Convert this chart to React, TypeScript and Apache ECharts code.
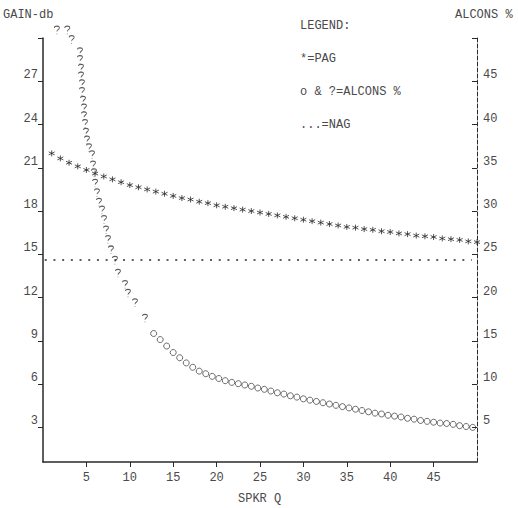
import React, { useEffect, useRef } from "react";
import * as echarts from "echarts";

// ---------- data ----------
const gainTicks = [3, 6, 9, 12, 15, 18, 21, 24, 27];
const gainTickMarks = [3, 6, 9, 12, 15, 18, 21, 24, 27, 30];
const alconsTicks = [5, 10, 15, 20, 25, 30, 35, 40, 45];
const alconsTickMarks = [5, 10, 15, 20, 25, 30, 35, 40, 45, 50];

// PAG (dB) vs speaker Q
const pagQ = [1, 2, 3, 4, 5, 6, 7, 8, 9, 10, 11, 12, 13, 14, 15, 16, 17, 18, 19, 20, 21, 22, 23, 24, 25, 26, 27, 28, 29, 30, 31, 32, 33, 34, 35, 36, 37, 38, 39, 40, 41, 42, 43, 44, 45, 46, 47, 48, 49, 50];
const pagDb = [22.0, 21.65, 21.35, 21.1, 20.85, 20.6, 20.4, 20.2, 20.0, 19.8, 19.65, 19.5, 19.35, 19.2, 19.05, 18.9, 18.8, 18.65, 18.55, 18.4, 18.3, 18.2, 18.1, 18.0, 17.9, 17.8, 17.7, 17.6, 17.5, 17.4, 17.3, 17.2, 17.1, 17.0, 16.9, 16.85, 16.75, 16.7, 16.6, 16.55, 16.45, 16.4, 16.3, 16.25, 16.2, 16.1, 16.05, 16.0, 15.9, 15.85];

// NAG (dB), constant across Q
const nagQ = [0.2, 49.4];
const nagDb = 14.6;

// ALCONS % plotted with "?" (steep part, incl. off-scale marks at the top)
const alconsQQ = [1.6, 2.8, 3.3, 4.26, 4.26, 4.38, 4.38, 4.49, 4.49, 4.61, 4.72, 4.72, 4.84, 4.95, 5.07, 5.3, 5.65, 5.76, 5.88, 6.0, 6.22, 6.45, 6.8, 7.03, 7.26, 7.49, 7.83, 8.29, 8.64, 9.45, 9.79, 10.6, 11.75];
const alconsQPct = [50.9, 50.9, 49.8, 48.4, 47.5, 46.5, 45.6, 44.7, 43.8, 42.8, 41.9, 41.0, 40.1, 39.1, 38.2, 37.3, 36.5, 35.3, 34.4, 33.2, 32.1, 31.0, 30.1, 29.0, 27.8, 26.7, 25.5, 24.3, 22.8, 21.5, 20.5, 19.4, 17.6];

// ALCONS % plotted with "o"
const alconsOQ = [12.75, 13.5, 14.25, 15, 15.75, 16.5, 17.25, 18, 18.75, 19.5, 20.25, 21, 21.75, 22.5, 23.25, 24, 24.75, 25.5, 26.25, 27, 27.75, 28.5, 29.25, 30, 30.75, 31.5, 32.25, 33, 33.75, 34.5, 35.25, 36, 36.75, 37.5, 38.25, 39, 39.75, 40.5, 41.25, 42, 42.75, 43.5, 44.25, 45, 45.75, 46.5, 47.25, 48, 48.75, 49.5];
const alconsOPct = [15.85, 15.15, 14.4, 13.65, 13.05, 12.45, 11.95, 11.5, 11.2, 10.9, 10.65, 10.4, 10.2, 10.05, 9.9, 9.75, 9.55, 9.4, 9.2, 9.0, 8.85, 8.65, 8.5, 8.3, 8.15, 8.0, 7.85, 7.7, 7.55, 7.4, 7.25, 7.1, 6.95, 6.8, 6.65, 6.55, 6.4, 6.3, 6.2, 6.05, 5.95, 5.8, 5.7, 5.6, 5.5, 5.45, 5.35, 5.2, 5.1, 5.0];

// ---------- styling ----------
const FONT = "Liberation Mono, DejaVu Sans Mono, monospace";
const INK = "#2a2a2a";
const TXT = "#4a4a4a";

const STAR_PATH = "path://M0,-5L0,5M-4.33,-2.5L4.33,2.5M-4.33,2.5L4.33,-2.5";
const QMARK_PATH = "path://M1,3C1,0 7,0 7,3C7,5 4,5.5 4,8M4,10.5L4,11.5";

export default function App() {
  const ref = useRef<HTMLDivElement>(null);

  useEffect(() => {
    if (!ref.current) return;
    const chart = echarts.init(ref.current, null, { renderer: "svg" });

    const txt = (text: string, x: number, y: number) => ({
      type: "text",
      x,
      y,
      style: { text, font: `12px ${FONT}`, fill: TXT, verticalAlign: "middle" },
    });

    chart.setOption({
      animation: false,
      backgroundColor: "#ffffff",
      grid: { left: 43, right: 41, top: 38, bottom: 46 },
      xAxis: {
        type: "value",
        min: 0,
        max: 50,
        interval: 5,
        axisLine: { show: true, lineStyle: { color: INK, width: 1.5 } },
        axisTick: { show: true, inside: false, length: 5, lineStyle: { color: INK } },
        splitLine: { show: false },
        axisLabel: {
          showMinLabel: false,
          showMaxLabel: false,
          margin: 10,
          color: TXT,
          fontFamily: FONT,
          fontSize: 12,
        },
      },
      yAxis: [
        {
          type: "value",
          min: 0.6,
          max: 30,
          position: "left",
          axisLine: { show: true, onZero: false, lineStyle: { color: INK, width: 1.5 } },
          axisTick: { show: true, length: 5, customValues: gainTickMarks, lineStyle: { color: INK } },
          splitLine: { show: false },
          axisLabel: {
            customValues: gainTicks,
            margin: 5,
            verticalAlign: "bottom",
            color: TXT,
            fontFamily: FONT,
            fontSize: 12,
          },
        },
        {
          type: "value",
          min: 1,
          max: 50,
          position: "right",
          axisLine: { show: true, onZero: false, lineStyle: { color: INK, width: 1, type: [4, 2] } },
          axisTick: { show: true, length: 5, inside: true, customValues: alconsTickMarks, lineStyle: { color: INK } },
          splitLine: { show: false },
          axisLabel: {
            customValues: alconsTicks,
            margin: 6,
            verticalAlign: "bottom",
            color: TXT,
            fontFamily: FONT,
            fontSize: 12,
          },
        },
      ],
      series: [
        {
          name: "NAG",
          type: "line",
          yAxisIndex: 0,
          symbol: "none",
          data: nagQ.map((q) => [q, nagDb]),
          lineStyle: { color: INK, width: 1.5, type: [2, 6.7] },
        },
        {
          name: "PAG",
          type: "scatter",
          yAxisIndex: 0,
          symbol: STAR_PATH,
          symbolSize: 6,
          data: pagQ.map((q, i) => [q, pagDb[i]]),
          itemStyle: { color: "rgba(0,0,0,0)", borderColor: INK, borderWidth: 1 },
        },
        {
          name: "ALCONS ?",
          type: "scatter",
          yAxisIndex: 1,
          clip: false,
          symbol: QMARK_PATH,
          symbolSize: [5, 8],
          data: alconsQQ.map((q, i) => [q, alconsQPct[i]]),
          itemStyle: { color: "rgba(0,0,0,0)", borderColor: "#333", borderWidth: 1 },
        },
        {
          name: "ALCONS o",
          type: "scatter",
          yAxisIndex: 1,
          symbol: "circle",
          symbolSize: 6,
          data: alconsOQ.map((q, i) => [q, alconsOPct[i]]),
          itemStyle: { color: "rgba(0,0,0,0)", borderColor: "#333", borderWidth: 0.9 },
        },
      ],
      graphic: [
        txt("GAIN-db", 3, 15),
        txt("ALCONS %", 455, 15),
        txt("LEGEND:", 300, 26),
        txt("*=PAG", 300, 59),
        txt("o & ?=ALCONS %", 300, 92),
        txt("...=NAG", 300, 125),
        txt("SPKR Q", 238, 499),
      ],
    });

    return () => chart.dispose();
  }, []);

  return (
    <div
      ref={ref}
      style={{ position: "fixed", left: 0, top: 0, width: 518, height: 508, background: "#fff" }}
    />
  );
}
